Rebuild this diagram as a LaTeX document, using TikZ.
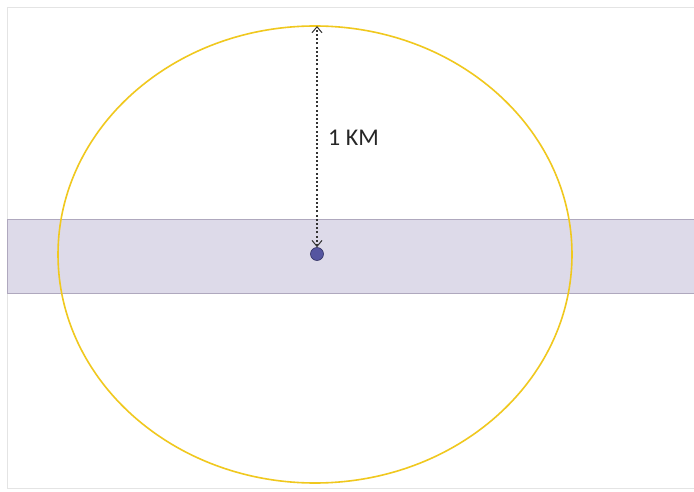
\documentclass[tikz,border=0pt]{standalone}
\usepackage{fontspec}
\setmainfont{Carlito}
\usetikzlibrary{arrows.meta}
\definecolor{bandfill}{RGB}{221,218,233}
\definecolor{bandedge}{RGB}{175,168,190}
\definecolor{ringcol}{RGB}{240,200,30}
\definecolor{dotfill}{RGB}{85,85,160}
\definecolor{dotedge}{RGB}{50,50,100}
\definecolor{framecol}{RGB}{228,228,228}
\tikzset{
  band/.style={fill=bandfill, draw=bandedge, line width=0.6pt},
  ring/.style={draw=ringcol, line width=1.6pt},
  centre/.style={circle, fill=dotfill, draw=dotedge, line width=0.6pt, minimum size=13pt, inner sep=0pt},
  radius line/.style={draw=black!80, line width=1.8pt, dash pattern=on 2pt off 2.2pt, {Straight Barb[length=6pt,width=10pt,line width=1pt]}-{Straight Barb[length=6pt,width=10pt,line width=1pt]}},
  lbl/.style={font=\fontsize{24}{28}\selectfont, text=black!85, inner sep=0pt}
}
\begin{document}
\begin{tikzpicture}[x=1pt,y=1pt]
\useasboundingbox (0,0) rectangle (694,491);
\fill[white] (0,0) rectangle (694,491);
\draw[framecol, line width=0.6pt] (7,3) -- (7,484) -- (694,484);
\draw[framecol, line width=0.6pt] (7,3) -- (694,3);
\path[band] (7,198) rectangle (694,272);
\draw[ring] (315,236.5) ellipse [x radius=257, y radius=228.5];
\node[centre] (dot) at (317,237) {};
\coordinate (top) at (317,465);
\draw[radius line] (dot.north) -- (top);
\node[lbl, anchor=west] (km) at (328,353) {1 KM};
\end{tikzpicture}
\end{document}
